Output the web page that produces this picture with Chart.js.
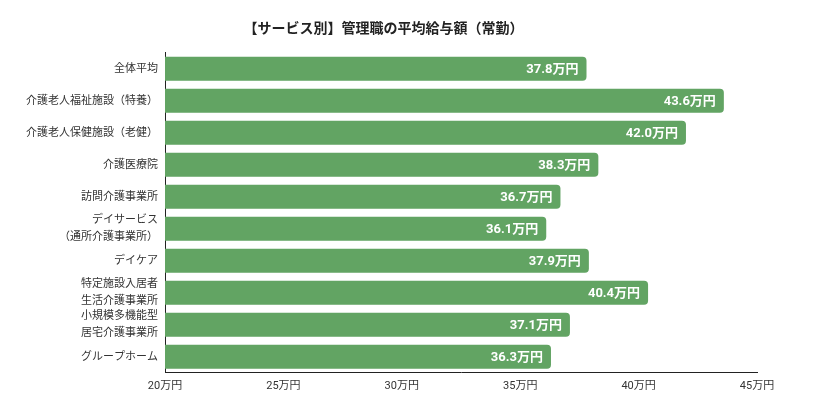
<!DOCTYPE html>
<html lang="ja">
<head>
<meta charset="utf-8">
<title>サービス別 管理職の平均給与額</title>
<script src="https://cdn.jsdelivr.net/npm/chart.js@4.4.1/dist/chart.umd.min.js"></script>
<style>
  html, body { margin: 0; padding: 0; background: #fff; }
  #wrap { width: 813px; height: 410px; position: relative; }
</style>
</head>
<body>
<div id="wrap"><canvas id="salaryChart"></canvas></div>
<script>
// 区分（複数行のものは配列で）
const categories = [
  '全体平均',
  '介護老人福祉施設（特養）',
  '介護老人保健施設（老健）',
  '介護医療院',
  '訪問介護事業所',
  ['デイサービス', '（通所介護事業所）'],
  'デイケア',
  ['特定施設入居者', '生活介護事業所'],
  ['小規模多機能型', '居宅介護事業所'],
  'グループホーム'
];

// 平均給与額（万円）
const salaries = [37.8, 43.6, 42.0, 38.3, 36.7, 36.1, 37.9, 40.4, 37.1, 36.3];

const axisMin = 20;
const axisMax = 45;
const axisStep = 5;
const unit = '万円';

const barColor = '#62a463';
const jpFont = "Roboto, 'Noto Sans CJK JP', sans-serif";

// バーの先端内側に値を描く
const valueLabels = {
  id: 'valueLabels',
  afterDatasetsDraw(chart) {
    const ctx = chart.ctx;
    const meta = chart.getDatasetMeta(0);
    ctx.save();
    ctx.font = "bold 13px " + jpFont;
    ctx.fillStyle = '#ffffff';
    ctx.textAlign = 'right';
    ctx.textBaseline = 'middle';
    meta.data.forEach((bar, i) => {
      ctx.fillText(salaries[i].toFixed(1) + unit, bar.x - 8, bar.y + 1);
    });
    ctx.restore();
  }
};

new Chart(document.getElementById('salaryChart').getContext('2d'), {
  type: 'bar',
  data: {
    labels: categories,
    datasets: [{
      data: salaries,
      backgroundColor: barColor,
      borderRadius: 4,
      borderSkipped: 'start',
      categoryPercentage: 1,
      barPercentage: 0.75
    }]
  },
  options: {
    indexAxis: 'y',
    responsive: true,
    maintainAspectRatio: false,
    animation: false,
    layout: {
      padding: { left: 10, right: 56, top: 0, bottom: 10 }
    },
    plugins: {
      legend: { display: false },
      tooltip: { enabled: false },
      title: {
        display: true,
        text: '【サービス別】管理職の平均給与額（常勤）',
        color: '#222',
        font: { family: jpFont, size: 14, weight: 'bold' },
        padding: { top: 21, bottom: 15 }
      }
    },
    scales: {
      x: {
        min: axisMin,
        max: axisMax,
        grid: { display: false, drawTicks: false },
        border: { display: true, color: '#222', width: 1 },
        ticks: {
          stepSize: axisStep,
          autoSkip: false,
          maxRotation: 0,
          padding: 7,
          color: '#333',
          font: { family: jpFont, size: 11 },
          callback: v => v + unit
        }
      },
      y: {
        grid: { display: false, drawTicks: false },
        border: { display: true, color: '#222', width: 1 },
        afterFit(scale) { scale.width = 155; },
        ticks: {
          autoSkip: false,
          padding: 7,
          color: '#333',
          font: { family: jpFont, size: 11, lineHeight: 1.5 }
        }
      }
    }
  },
  plugins: [valueLabels]
});
</script>
</body>
</html>
